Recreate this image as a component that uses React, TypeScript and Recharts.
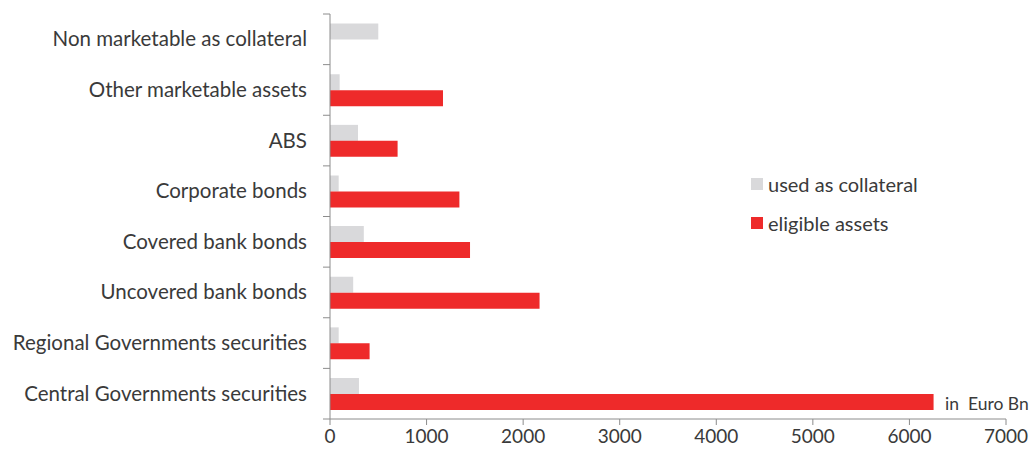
import { BarChart, Bar, XAxis, YAxis } from "recharts";

const categories = [
  "Non marketable as collateral",
  "Other marketable assets",
  "ABS",
  "Corporate bonds",
  "Covered bank bonds",
  "Uncovered bank bonds",
  "Regional Governments securities",
  "Central Governments securities",
];
const usedAsCollateral = [500, 100, 290, 90, 350, 240, 90, 300];
const eligibleAssets = [0, 1170, 700, 1340, 1450, 2170, 410, 6250];
const xTicks = [0, 1000, 2000, 3000, 4000, 5000, 6000, 7000];

const data = categories.map((name, i) => ({
  name,
  used: usedAsCollateral[i],
  eligible: eligibleAssets[i],
}));

const FONT = "Lato, 'Open Sans', sans-serif";
const TEXT = "#3a3a3a";
const AXIS = "#8c8c8c";
const GREY = "#d9d9db";
const RED = "#ee2a2a";

const TOP = 14;
const PLOT_H = 405;
const BAND = PLOT_H / categories.length;

function CategoryTick(props: any) {
  const { x, y, payload, index } = props;
  return (
    <g>
      {index === 0 && (
        <line x1={x - 7} x2={x} y1={y - BAND / 2} y2={y - BAND / 2} stroke={AXIS} />
      )}
      <line x1={x - 7} x2={x} y1={y + BAND / 2} y2={y + BAND / 2} stroke={AXIS} />
      <text x={x - 23} y={y} dy={7} textAnchor="end" fontSize={20.5} fill={TEXT} fontFamily={FONT}>
        {payload.value}
      </text>
    </g>
  );
}

const legendItems = [
  { label: "used as collateral", color: GREY },
  { label: "eligible assets", color: RED },
];

export default function App() {
  return (
    <div style={{ position: "relative", width: 1033, height: 457, background: "#fff" }}>
      <style>{"body{margin:0}"}</style>
      <BarChart
        width={1033}
        height={457}
        data={data}
        layout="vertical"
        margin={{ top: TOP, right: 27, left: 0, bottom: 8 }}
        barCategoryGap="19%"
        barGap={0}
      >
        <XAxis
          type="number"
          domain={[0, 7000]}
          ticks={xTicks}
          interval={0}
          stroke={AXIS}
          tickSize={6}
          tickMargin={5}
          height={30}
          tick={{ fontSize: 19, fill: TEXT, fontFamily: FONT }}
        />
        <YAxis
          type="category"
          dataKey="name"
          width={330}
          stroke={AXIS}
          tickLine={false}
          tickSize={0}
          tickMargin={0}
          tick={<CategoryTick />}
          interval={0}
        />
        <Bar dataKey="used" name="used as collateral" fill={GREY} isAnimationActive={false} />
        <Bar dataKey="eligible" name="eligible assets" fill={RED} isAnimationActive={false} />
      </BarChart>
      <div style={{ position: "absolute", left: 751, top: 164, fontFamily: FONT, fontSize: 20, color: TEXT }}>
        {legendItems.map((it) => (
          <div key={it.label} style={{ display: "flex", alignItems: "center", height: 39 }}>
            <span style={{ width: 12, height: 12, background: it.color, marginRight: 5 }} />
            <span>{it.label}</span>
          </div>
        ))}
      </div>
      <div
        style={{
          position: "absolute",
          left: 945,
          top: 393,
          fontFamily: FONT,
          fontSize: 17.5,
          color: TEXT,
          whiteSpace: "pre",
        }}
      >
        {"in  Euro Bn"}
      </div>
    </div>
  );
}
